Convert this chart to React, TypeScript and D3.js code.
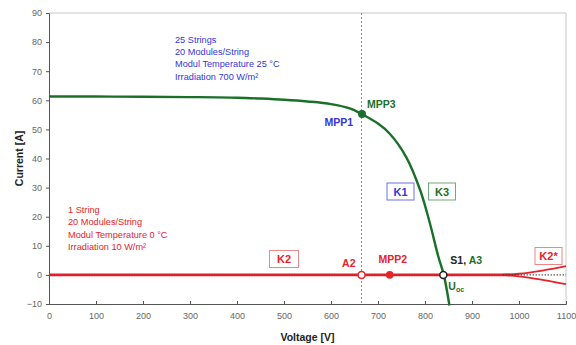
import { useEffect, useRef } from "react";
import * as d3 from "d3";

// ── Data ──────────────────────────────────────────────────────────────────────
const xTicks = [0, 100, 200, 300, 400, 500, 600, 700, 800, 900, 1000, 1100];
const yTicks = [-10, 0, 10, 20, 30, 40, 50, 60, 70, 80, 90];

// K1 / K3: 25 strings, 700 W/m², 25 °C
const greenV = [0, 100, 200, 300, 400, 450, 500, 550, 600, 640, 665, 700, 725, 760, 790, 810, 828, 840, 852];
const greenI = [61.3, 61.3, 61.2, 61.1, 60.9, 60.6, 60.2, 59.6, 58.7, 57.2, 55.3, 52, 48.5, 40.5, 29, 18, 6.5, 0, -10.5];

// K2: 1 string, 10 W/m², 0 °C
const redV = [0, 500, 980];
const redI = [0, 0, 0];
const k2UpperV = [960, 1000, 1050, 1100];
const k2UpperI = [0, 0.4, 1.5, 3];
const k2LowerV = [960, 1000, 1050, 1100];
const k2LowerI = [0, -0.5, -1.7, -3.2];

const mppVoltage = 665;
const mpp3 = { v: 666, i: 55.3 };
const a2 = { v: 665, i: 0 };
const mpp2 = { v: 725, i: 0 };
const s1 = { v: 839, i: 0 };

const blueLines = ["25 Strings", "20 Modules/String", "Modul Temperature 25 °C", "Irradiation 700 W/m²"];
const redLines = ["1 String", "20 Modules/String", "Modul Temperature 0 °C", "Irradiation 10 W/m²"];

// ── Layout ────────────────────────────────────────────────────────────────────
const W = 576;
const H = 345;
const M = { top: 13, right: 10, bottom: 41, left: 49 };

const GREEN = "#1b7029";
const RED = "#e8222a";
const BLUE = "#3535d8";
const FONT = "'Liberation Sans', Arial, sans-serif";

export default function App() {
  const svgRef = useRef<SVGSVGElement>(null);

  useEffect(() => {
    if (!svgRef.current) return;
    const svg = d3.select(svgRef.current);
    svg.selectAll("*").remove();

    const x = d3.scaleLinear().domain([0, 1100]).range([M.left, W - M.right]);
    const y = d3.scaleLinear().domain([-10, 90]).range([H - M.bottom, M.top]);

    svg.append("rect").attr("width", W).attr("height", H).attr("fill", "#fff");

    // ── Frame (top / right) ─────────────────────────────────────────
    svg.append("path")
      .attr("d", `M${x(0)},${y(90)}H${x(1100)}V${y(-10)}`)
      .attr("fill", "none")
      .attr("stroke", "#c8c8c8")
      .attr("stroke-width", 1);

    // ── Axes ────────────────────────────────────────────────────────
    svg.append("g")
      .attr("transform", `translate(0,${y(-10)})`)
      .call(d3.axisBottom(x).tickValues(xTicks).tickSize(-3).tickPadding(9).tickFormat(d3.format("d")))
      .call((g) => g.select(".domain").attr("stroke", "#555"))
      .call((g) => g.selectAll(".tick line").attr("stroke", "#555"))
      .call((g) => g.selectAll("text").attr("fill", "#666").attr("font-size", "9px").attr("font-family", FONT));

    svg.append("g")
      .attr("transform", `translate(${x(0)},0)`)
      .call(d3.axisLeft(y).tickValues(yTicks).tickSize(3).tickPadding(4).tickFormat(d3.format("d")))
      .call((g) => g.select(".domain").attr("stroke", "#555"))
      .call((g) => g.selectAll(".tick line").attr("stroke", "#555"))
      .call((g) => g.selectAll("text").attr("fill", "#666").attr("font-size", "9px").attr("font-family", FONT));

    svg.append("text")
      .attr("x", x(550)).attr("y", 341)
      .attr("text-anchor", "middle")
      .attr("font-family", FONT).attr("font-size", "10.5px").attr("font-weight", "bold")
      .attr("fill", "#222")
      .text("Voltage [V]");

    svg.append("text")
      .attr("transform", `translate(23,${y(40)}) rotate(-90)`)
      .attr("text-anchor", "middle")
      .attr("font-family", FONT).attr("font-size", "10.5px").attr("font-weight", "bold")
      .attr("fill", "#222")
      .text("Current [A]");

    // ── MPP voltage guide ───────────────────────────────────────────
    svg.append("line")
      .attr("x1", x(mppVoltage)).attr("x2", x(mppVoltage))
      .attr("y1", y(90)).attr("y2", y(-10))
      .attr("stroke", "#4cb05a").attr("stroke-width", 1)
      .attr("stroke-dasharray", "2 2");

    const line = d3.line<[number, number]>().x((d) => x(d[0])).y((d) => y(d[1]));
    const lineSmooth = d3.line<[number, number]>().x((d) => x(d[0])).y((d) => y(d[1])).curve(d3.curveMonotoneX);
    const zip = (vs: number[], is: number[]) => vs.map((v, k) => [v, is[k]] as [number, number]);

    // ── K2 (red) ────────────────────────────────────────────────────
    svg.append("path").attr("d", line(zip(redV, redI)))
      .attr("fill", "none").attr("stroke", RED).attr("stroke-width", 2.6);
    svg.append("path").attr("d", line(zip(redV, redI)))
      .attr("fill", "none").attr("stroke", "#9a0a10").attr("stroke-width", 0.8)
      .attr("stroke-dasharray", "1 1.5").attr("opacity", 0.6);
    svg.append("path").attr("d", lineSmooth(zip(k2UpperV, k2UpperI)))
      .attr("fill", "none").attr("stroke", RED).attr("stroke-width", 1.8);
    svg.append("path").attr("d", lineSmooth(zip(k2LowerV, k2LowerI)))
      .attr("fill", "none").attr("stroke", RED).attr("stroke-width", 1.8);
    svg.append("line")
      .attr("x1", x(965)).attr("x2", x(1100)).attr("y1", y(0)).attr("y2", y(0))
      .attr("stroke", "#333").attr("stroke-width", 1).attr("stroke-dasharray", "1.5 1.5");

    // ── K1 / K3 (green) ─────────────────────────────────────────────
    svg.append("path")
      .attr("d", d3.line<[number, number]>().x((d) => x(d[0])).y((d) => y(d[1])).curve(d3.curveCatmullRom.alpha(0.5))(zip(greenV, greenI)))
      .attr("fill", "none").attr("stroke", GREEN).attr("stroke-width", 2.4);

    // ── Markers ─────────────────────────────────────────────────────
    svg.append("circle").attr("cx", x(mpp3.v)).attr("cy", y(mpp3.i)).attr("r", 4).attr("fill", GREEN);
    svg.append("circle").attr("cx", x(a2.v)).attr("cy", y(a2.i)).attr("r", 3.5)
      .attr("fill", "#fff").attr("stroke", RED).attr("stroke-width", 1.5);
    svg.append("circle").attr("cx", x(mpp2.v)).attr("cy", y(mpp2.i)).attr("r", 3.8).attr("fill", RED);
    svg.append("circle").attr("cx", x(s1.v)).attr("cy", y(s1.i)).attr("r", 3.5)
      .attr("fill", "#fff").attr("stroke", "#222").attr("stroke-width", 1.5);

    // ── Condition text blocks ───────────────────────────────────────
    blueLines.forEach((t, k) => {
      svg.append("text").attr("x", 175).attr("y", 42.5 + k * 12.4)
        .attr("font-family", FONT).attr("font-size", "9.2px").attr("fill", BLUE).text(t);
    });
    redLines.forEach((t, k) => {
      svg.append("text").attr("x", 68).attr("y", 213 + k * 12.4)
        .attr("font-family", FONT).attr("font-size", "9.2px").attr("fill", RED).text(t);
    });

    // ── Point labels ────────────────────────────────────────────────
    const label = (tx: number, ty: number, t: string, fill: string, anchor = "start") =>
      svg.append("text").attr("x", tx).attr("y", ty)
        .attr("text-anchor", anchor)
        .attr("font-family", FONT).attr("font-size", "10.5px").attr("font-weight", "bold")
        .attr("fill", fill).text(t);

    label(x(mpp3.v) + 5, y(mpp3.i) - 6, "MPP3", GREEN);
    label(x(mpp3.v) - 9, y(mpp3.i) + 12, "MPP1", BLUE, "end");
    label(x(a2.v) - 6, y(0) - 8, "A2", RED, "end");
    label(x(mpp2.v) + 3, y(0) - 12, "MPP2", RED, "middle");
    const s1t = label(x(s1.v) + 7, y(0) - 11, "S1, ", "#222");
    s1t.append("tspan").attr("fill", GREEN).text("A3");
    const uoc = label(x(s1.v) + 5, y(0) + 15, "U", GREEN);
    uoc.append("tspan").attr("font-size", "7px").attr("dy", 2).text("oc");

    // ── Boxed curve labels ──────────────────────────────────────────
    const box = (cx: number, cy: number, t: string, color: string, stroke: string, w = 27) => {
      svg.append("rect").attr("x", cx - w / 2).attr("y", cy - 8.5).attr("width", w).attr("height", 17)
        .attr("fill", "#fff").attr("stroke", stroke).attr("stroke-width", 1);
      svg.append("text").attr("x", cx).attr("y", cy + 4)
        .attr("text-anchor", "middle")
        .attr("font-family", FONT).attr("font-size", "11px").attr("font-weight", "bold")
        .attr("fill", color).text(t);
    };
    box(400.5, 191.5, "K1", BLUE, "#7070e0");
    box(442, 191.5, "K3", GREEN, "#70a878");
    box(284, 259, "K2", RED, "#e88888", 29);
    box(548.5, 256, "K2*", RED, "#e88888", 27);
  }, []);

  return (
    <div style={{ position: "fixed", left: 0, top: 0, width: W, height: H }}>
      <svg ref={svgRef} width={W} height={H} style={{ display: "block" }} />
    </div>
  );
}
